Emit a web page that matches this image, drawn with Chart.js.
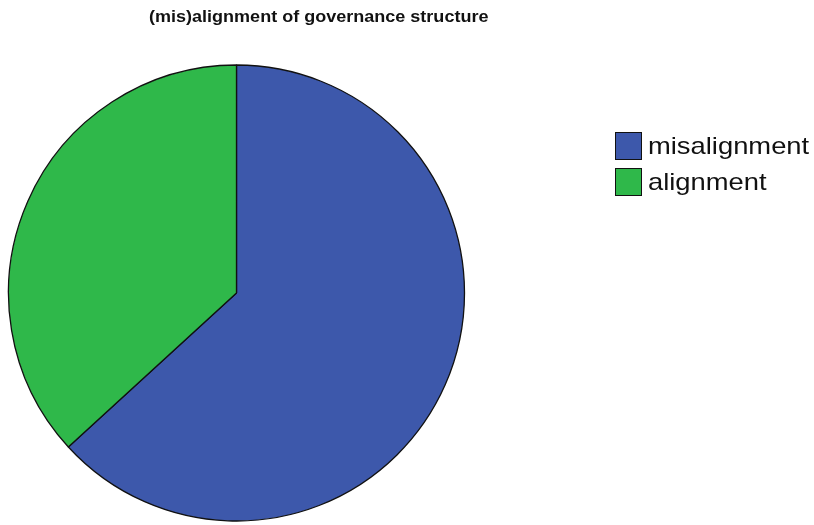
<!DOCTYPE html>
<html>
<head>
<meta charset="utf-8">
<script src="https://cdn.jsdelivr.net/npm/chart.js@4"></script>
<style>
    body { margin: 0; background: #fff; }
    #wrap { position: relative; width: 814px; height: 525px; }
    #chartTitle {
        position: absolute; left: 149px; top: 7px;
        font: bold 17px "Liberation Sans", Arial, sans-serif; color: #111;
        transform: scaleX(1.06); transform-origin: left center; white-space: nowrap;
    }
    #legend { position: absolute; left: 615px; top: 128px; }
    .item { display: flex; align-items: center; height: 36px; }
    .box { width: 27px; height: 28px; border: 1.5px solid #111; box-sizing: border-box; }
    .lbl {
        margin-left: 6px; font: 24px "Liberation Sans", Arial, sans-serif; color: #111;
        transform: scaleX(1.14); transform-origin: left center; white-space: nowrap;
    }
</style>
</head>
<body>
<div id="wrap">
    <canvas id="govChart" width="814" height="525"></canvas>
    <div id="chartTitle"></div>
    <div id="legend"></div>
</div>
<script>
const chartTitle = '(mis)alignment of governance structure';
const categories = ['misalignment', 'alignment'];
const shares = [63.2, 36.8];
const sliceColors = ['#3d58ab', '#2fb84a'];

document.addEventListener('DOMContentLoaded', function() {
    document.getElementById('chartTitle').textContent = chartTitle;

    const ctx = document.getElementById('govChart').getContext('2d');
    const chart = new Chart(ctx, {
        type: 'pie',
        data: {
            labels: categories,
            datasets: [{
                data: shares,
                backgroundColor: sliceColors,
                borderColor: '#111',
                borderWidth: 1.3,
                hoverOffset: 0
            }]
        },
        options: {
            responsive: false,
            animation: false,
            radius: 228,
            layout: { padding: { left: 0, right: 341, top: 62, bottom: 1 } },
            plugins: {
                legend: { display: false },
                tooltip: { enabled: false }
            }
        }
    });

    // legend built from the chart's own labels and colours
    const legend = document.getElementById('legend');
    chart.data.labels.forEach(function(label, i) {
        const item = document.createElement('div');
        item.className = 'item';
        const box = document.createElement('div');
        box.className = 'box';
        box.style.background = chart.data.datasets[0].backgroundColor[i];
        const text = document.createElement('span');
        text.className = 'lbl';
        text.textContent = label;
        item.appendChild(box);
        item.appendChild(text);
        legend.appendChild(item);
    });
});
</script>
</body>
</html>
